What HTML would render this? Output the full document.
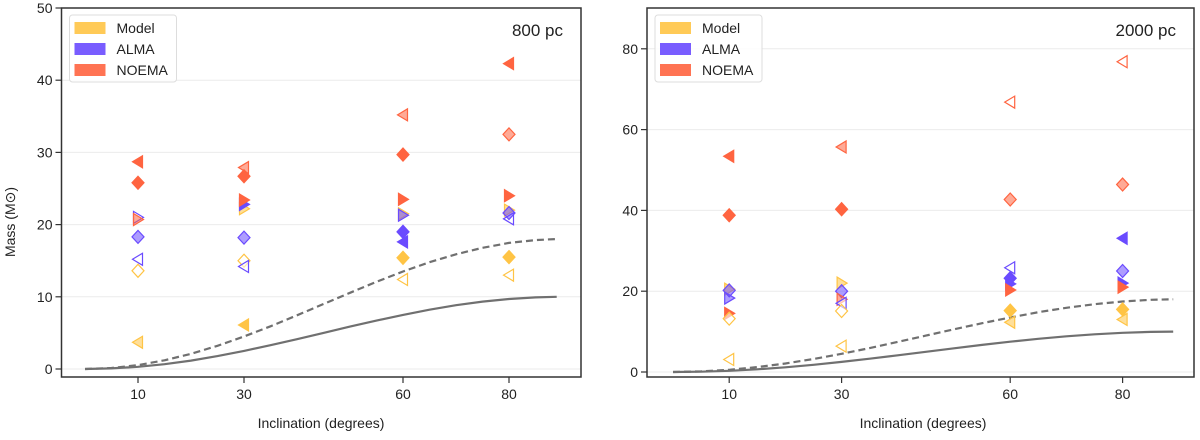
<!DOCTYPE html>
<html><head><meta charset="utf-8"><style>
body{margin:0;background:#fff;}
svg text{font-family:"Liberation Sans",sans-serif;fill:#222;}
</style></head><body>
<svg id="chart" width="1200" height="435" xmlns="http://www.w3.org/2000/svg"></svg>
<script>
// Shared curve data (inclination degrees, mass)
const curveInc = [0,5,10,15,20,25,30,35,40,45,50,55,60,65,70,75,80,85,89];
const solidCurve = [0,0.08,0.30,0.67,1.17,1.79,2.5,3.29,4.13,5.0,5.87,6.71,7.5,8.21,8.83,9.33,9.70,9.92,10.0];
const dashedCurve = [0,0.14,0.54,1.21,2.11,3.21,4.5,5.92,7.44,9.0,10.56,12.08,13.5,14.79,15.89,16.79,17.46,17.86,18.0];

// Marker data: [inclination, mass, source, shape, style]
const left800 = [
 [10,28.7,'N','L','s'],[10,25.8,'N','D','s'],[10,21.0,'A','R','o'],[10,20.7,'N','R','l'],[10,18.3,'A','D','l'],[10,15.2,'A','L','o'],[10,13.6,'M','D','o'],[10,3.7,'M','L','l'],
 [30,27.9,'N','L','l'],[30,26.7,'N','D','s'],[30,22.2,'M','R','l'],[30,22.8,'A','R','s'],[30,23.4,'N','R','s'],[30,18.2,'A','D','l'],[30,15.0,'M','D','o'],[30,14.2,'A','L','o'],[30,6.1,'M','L','s'],
 [60,35.2,'N','L','l'],[60,29.7,'N','D','s'],[60,23.5,'N','R','s'],[60,21.5,'M','R','l'],[60,21.3,'A','R','l'],[60,19.0,'A','D','s'],[60,17.6,'A','L','s'],[60,15.4,'M','D','s'],[60,12.4,'M','L','o'],
 [80,42.3,'N','L','s'],[80,32.5,'N','D','l'],[80,24.0,'N','R','s'],[80,22.0,'M','R','l'],[80,20.8,'A','L','o'],[80,21.6,'A','D','l'],[80,15.5,'M','D','s'],[80,13.0,'M','L','o']
];
const right2000 = [
 [10,53.4,'N','L','s'],[10,38.8,'N','D','s'],[10,20.5,'M','R','l'],[10,18.3,'A','R','l'],[10,20.2,'A','D','l'],[10,14.5,'N','R','s'],[10,13.2,'M','D','o'],[10,3.1,'M','L','o'],
 [30,55.7,'N','L','l'],[30,40.3,'N','D','s'],[30,22.0,'M','R','l'],[30,20.0,'A','D','l'],[30,18.0,'N','R','l'],[30,17.0,'A','L','o'],[30,15.1,'M','D','o'],[30,6.4,'M','L','o'],
 [60,66.8,'N','L','o'],[60,42.7,'N','D','l'],[60,25.8,'A','L','o'],[60,21.8,'A','R','s'],[60,23.2,'A','D','s'],[60,20.3,'N','R','s'],[60,15.2,'M','D','s'],[60,12.3,'M','L','l'],
 [80,76.8,'N','L','o'],[80,46.4,'N','D','l'],[80,33.1,'A','L','s'],[80,22.0,'A','R','s'],[80,25.0,'A','D','l'],[80,21.0,'N','R','s'],[80,15.5,'M','D','s'],[80,13.0,'M','L','l']
];
const leftYTicks = [0,10,20,30,40,50];
const rightYTicks = [0,20,40,60,80];
const xTicks = [10,30,60,80];

const colors = {M:'#ffc445',A:'#6a4bff',N:'#ff6440'};
const names = {M:'model',A:'alma',N:'noema'};
const NS='http://www.w3.org/2000/svg';
const svg=document.getElementById('chart');
function el(tag,attrs,parent){const e=document.createElementNS(NS,tag);for(const k in attrs)e.setAttribute(k,attrs[k]);(parent||svg).appendChild(e);return e;}

function panel(cfg){
  const g=el('g',{});
  
  
  const xs=v=>cfg.x0+v*cfg.xk;
  const ys=v=>cfg.y0-v*cfg.yk;
  cfg.yTicks.forEach(t=>{
    const l=el('line',{x1:cfg.L,x2:cfg.R,y1:ys(t),y2:ys(t),stroke:'#ebebeb','stroke-width':1},g);
    
    
    el('line',{x1:cfg.L-6,x2:cfg.L,y1:ys(t),y2:ys(t),stroke:'#333','stroke-width':1.2},g);
    const tx=el('text',{x:cfg.L-9,y:ys(t)+5,'text-anchor':'end','font-size':14},g);
    tx.textContent=t;
    
    
  });
  xTicks.forEach(t=>{
    el('line',{x1:xs(t),x2:xs(t),y1:cfg.B,y2:cfg.B+6,stroke:'#333','stroke-width':1.2},g);
    const tx=el('text',{x:xs(t),y:cfg.B+22,'text-anchor':'middle','font-size':14},g);
    tx.textContent=t;
    
    
  });
  const pts=arr=>curveInc.map((v,i)=>xs(v).toFixed(1)+','+ys(arr[i]).toFixed(1)).join(' ');
  const sc=el('polyline',{points:pts(solidCurve),fill:'none',stroke:'#707070','stroke-width':2.2},g);
  
  
  const dc=el('polyline',{points:pts(dashedCurve),fill:'none',stroke:'#707070','stroke-width':2.2,'stroke-dasharray':'7,4'},g);
  
  
  cfg.data.forEach(d=>{
    const cx=xs(d[0]),cy=ys(d[1]),c=colors[d[2]];
    let p;
    if(d[3]==='D') p=`${cx},${cy-6.5} ${cx+6},${cy} ${cx},${cy+6.5} ${cx-6},${cy}`;
    else if(d[3]==='L') p=`${cx-5.5},${cy} ${cx+4.5},${cy-6} ${cx+4.5},${cy+6}`;
    else p=`${cx+5.5},${cy} ${cx-4.5},${cy-6} ${cx-4.5},${cy+6}`;
    let fill=c,fo=1;
    if(d[4]==='l'){fo=0.55;}
    if(d[4]==='o'){fill='#fff';fo=0.6;}
    const m=el('polygon',{points:p,fill:fill,'fill-opacity':fo,stroke:c,'stroke-width':1.2},g);
    
    
  });
  const fr=el('rect',{x:cfg.L,y:cfg.T,width:cfg.R-cfg.L,height:cfg.B-cfg.T,fill:'none',stroke:'#333','stroke-width':1.5},g);
  
  
  const lg=el('g',{},g);
  
  
  el('rect',{x:cfg.L+8,y:15,width:107,height:67,rx:3,fill:'#fff','fill-opacity':0.85,stroke:'#ddd'},lg);
  [['M','Model'],['A','ALMA'],['N','NOEMA']].forEach((e,i)=>{
    const y=22+i*21;
    const r=el('rect',{x:cfg.L+13,y:y,width:31,height:12,fill:colors[e[0]],'fill-opacity':0.9},lg);
    
    
    const t=el('text',{x:cfg.L+55,y:y+11,'font-size':14},lg);
    t.textContent=e[1];
    
    
  });
  const dt=el('text',{x:cfg.R-cfg.tOff,y:36,'text-anchor':'end','font-size':17},g);
  dt.textContent=cfg.title;
  
  
  const xl=el('text',{x:cfg.xlx,y:428,'text-anchor':'middle','font-size':14},g);
  xl.textContent='Inclination (degrees)';
  
  
}
panel({name:'panel-800pc',L:61.5,R:581,T:8,B:377,x0:85,xk:5.3,y0:369,yk:7.22,yTicks:leftYTicks,data:left800,title:'800 pc',xlx:321,tOff:18});
panel({name:'panel-2000pc',L:647,R:1194,T:8,B:377,x0:673,xk:5.62,y0:372,yk:4.04,yTicks:rightYTicks,data:right2000,title:'2000 pc',xlx:923,tOff:18});
const yl=el('text',{x:0,y:0,'text-anchor':'middle','font-size':14,transform:'translate(15,222) rotate(-90)'});
yl.textContent='Mass (M\u2299)';


</script>
</body></html>
